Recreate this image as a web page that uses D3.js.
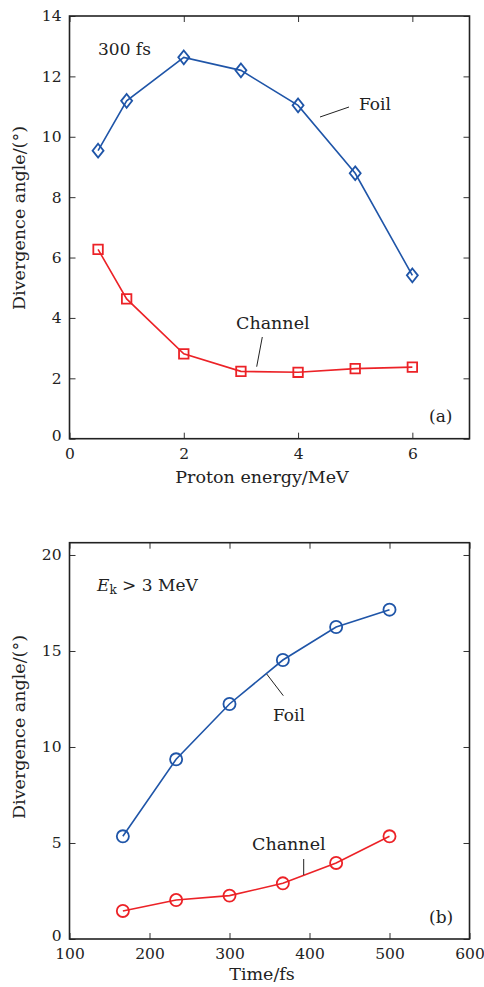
<html>
<head>
  <meta charset='utf-8' />
  <style>
    text { font-family: 'DejaVu Serif', 'Liberation Serif', serif; fill: #222; }
  </style>
</head>
<body style='padding: 0; margin: 0; background: white;'>
  <svg width='484' height='987'></svg>
</body>
<script src="https://d3js.org/d3.v7.min.js"></script>
<script>
///////////////////
/// Data
///////////////////

  energyA = [0.5, 1, 2, 3, 4, 5, 6];
  foilA = [9.54, 11.19, 12.63, 12.2, 11.04, 8.79, 5.41];
  channelA = [6.27, 4.63, 2.81, 2.23, 2.2, 2.32, 2.37];
  xTicksA = [0, 2, 4, 6];
  yTicksA = [0, 2, 4, 6, 8, 10, 12, 14];

  timeB = [166.7, 233.3, 300, 366.7, 433.3, 500];
  foilB = [5.35, 9.36, 12.24, 14.53, 16.25, 17.15];
  channelB = [1.46, 2.03, 2.26, 2.9, 3.96, 5.35];
  xTicksB = [100, 200, 300, 400, 500, 600];
  yTicksB = [0, 5, 10, 15, 20];

  blue = '#1f55a8';
  red = '#ec2227';

  svg = d3.select('svg');

////////////////////
/// Panel builder
////////////////////

  function panel(cfg) {
    x = d3.scaleLinear().domain(cfg.xDomain).range([69.5, 469.5]);
    y = d3.scaleLinear().domain(cfg.yDomain).range([cfg.bottom, cfg.top]);
    fmt = d3.format('d');

    g = svg.append('g');

    // ticks inside on all four sides
    g.append('g').attr('transform', `translate(0,${cfg.bottom})`)
      .call(d3.axisBottom(x).tickValues(cfg.xTicks).tickSizeInner(-6).tickSizeOuter(0).tickPadding(9).tickFormat(fmt))
    yAx = g.append('g').attr('transform', 'translate(69.5,0)')
      .call(d3.axisLeft(y).tickValues(cfg.yTicks).tickSizeInner(-6).tickSizeOuter(0).tickPadding(8).tickFormat(fmt))
    g.append('g').attr('transform', `translate(0,${cfg.top})`)
      .call(d3.axisTop(x).tickValues(cfg.xTicks).tickSizeInner(-6).tickSizeOuter(0).tickFormat(''))
    g.append('g').attr('transform', 'translate(469.5,0)')
      .call(d3.axisRight(y).tickValues(cfg.yTicks).tickSizeInner(-6).tickSizeOuter(0).tickFormat(''))

    g.selectAll('.domain').remove();
    g.selectAll('.tick line').attr('stroke', '#333').attr('stroke-width', 1);
    g.selectAll('.tick text').style('font-size', '15.5px').attr('fill', '#222');

    // the zero on the y axis sits a little higher so it clears the x labels
    yAx.selectAll('.tick text').filter(d => d === 0).attr('dy', '0.1em');

    g.append('rect')
      .attr('x', 69.5).attr('y', cfg.top)
      .attr('width', 400).attr('height', cfg.bottom - cfg.top)
      .attr('fill', 'none').attr('stroke', '#222').attr('stroke-width', 1.6);

    // axis titles
    g.append('text')
      .attr('x', 262).attr('y', cfg.xLabelY)
      .attr('text-anchor', 'middle')
      .style('font-size', '17.5px')
      .text(cfg.xLabel);

    g.append('text')
      .attr('transform', `translate(25,${cfg.yLabelMid}) rotate(-90)`)
      .attr('text-anchor', 'middle')
      .style('font-size', '17.5px')
      .text('Divergence angle/(°)');

    line = d3.line().x((d, i) => x(cfg.xs[i])).y(d => y(d));

    cfg.series.forEach(s => {
      g.append('path')
        .datum(s.values)
        .attr('fill', 'none')
        .attr('stroke', s.color)
        .attr('stroke-width', 1.6)
        .attr('d', line);

      g.selectAll(null)
        .data(s.values)
        .enter().append('path')
        .attr('transform', (d, i) => `translate(${x(cfg.xs[i])},${y(d)})`)
        .attr('d', d3.symbol().type(s.symbol).size(s.size))
        .attr('fill', 'none')
        .attr('stroke', s.color)
        .attr('stroke-width', 1.8);
    });

    return g;
  }

  // taller-than-wide diamond, like the original markers
  diamond = {
    draw(ctx, size) {
      r = Math.sqrt(size) / 2;
      ctx.moveTo(0, -r * 1.25); ctx.lineTo(r, 0);
      ctx.lineTo(0, r * 1.25); ctx.lineTo(-r, 0); ctx.closePath();
    }
  };

////////////////////
/// Panel (a)
////////////////////

  gA = panel({
    xDomain: [0, 7], yDomain: [0, 14],
    top: 16, bottom: 438.7,
    xTicks: xTicksA, yTicks: yTicksA,
    xLabel: 'Proton energy/MeV', xLabelY: 483,
    yLabelMid: 218,
    xs: energyA,
    series: [
      { values: foilA, color: blue, symbol: diamond, size: 121 },
      { values: channelA, color: red, symbol: d3.symbolSquare, size: 90 }
    ]
  });

  gA.append('text').attr('x', 98).attr('y', 55).style('font-size', '17px').text('300 fs');
  gA.append('text').attr('x', 359).attr('y', 110).style('font-size', '17px').text('Foil');
  gA.append('line').attr('x1', 320).attr('y1', 117).attr('x2', 349).attr('y2', 107).attr('stroke', '#222');
  gA.append('text').attr('x', 236).attr('y', 329).style('font-size', '17.5px').text('Channel');
  gA.append('line').attr('x1', 262.3).attr('y1', 337).attr('x2', 256.7).attr('y2', 366.7).attr('stroke', '#222');
  gA.append('text').attr('x', 429).attr('y', 422).style('font-size', '17px').text('(a)');

////////////////////
/// Panel (b)
////////////////////

  gB = panel({
    xDomain: [100, 600], yDomain: [0, 20.64],
    top: 542.7, bottom: 939,
    xTicks: xTicksB, yTicks: yTicksB,
    xLabel: 'Time/fs', xLabelY: 980,
    yLabelMid: 727,
    xs: timeB,
    series: [
      { values: foilB, color: blue, symbol: d3.symbolCircle, size: 115 },
      { values: channelB, color: red, symbol: d3.symbolCircle, size: 115 }
    ]
  });

  ek = gB.append('text').attr('x', 97).attr('y', 591).style('font-size', '17px');
  ek.append('tspan').style('font-style', 'italic').text('E');
  ek.append('tspan').attr('dy', 3).style('font-size', '12px').text('k');
  ek.append('tspan').attr('dy', -3).text(' > 3 MeV');

  gB.append('text').attr('x', 273).attr('y', 721).style('font-size', '17px').text('Foil');
  gB.append('line').attr('x1', 266.7).attr('y1', 674).attr('x2', 283.3).attr('y2', 695.7).attr('stroke', '#222');
  gB.append('text').attr('x', 252).attr('y', 850).style('font-size', '17.5px').text('Channel');
  gB.append('line').attr('x1', 303.7).attr('y1', 859).attr('x2', 303.7).attr('y2', 875).attr('stroke', '#222');
  gB.append('text').attr('x', 429).attr('y', 923).style('font-size', '17px').text('(b)');

</script>
</html>
